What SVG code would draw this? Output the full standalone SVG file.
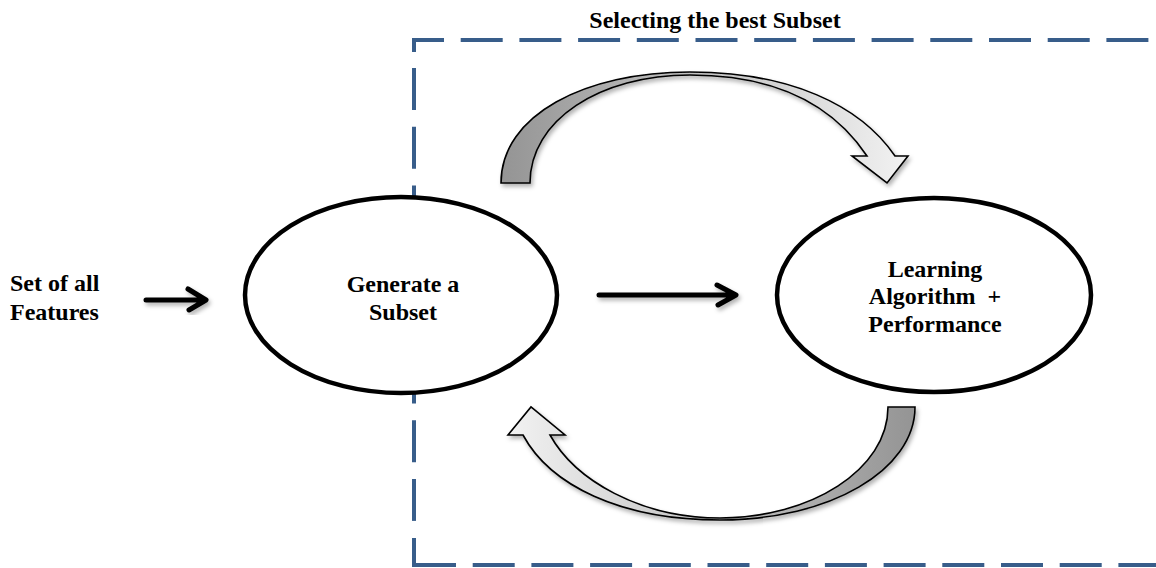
<svg xmlns="http://www.w3.org/2000/svg" width="1156" height="568" viewBox="0 0 1156 568">
<defs>
<style>
.lbl{font-family:"Liberation Serif","Times New Roman",serif;font-weight:bold;font-size:24px;fill:#000}
.dash{fill:none;stroke:#385D8A;stroke-width:4;stroke-dasharray:42 16.7}
.corner{fill:none;stroke:#385D8A;stroke-width:4}
.node{fill:#fff;stroke:#000;stroke-width:4.5}
.line{fill:none;stroke:#000;stroke-width:5;stroke-linecap:round;stroke-linejoin:round}
.curve{stroke:#000;stroke-width:1.6;stroke-linejoin:miter}
</style>
<linearGradient id="gTop" x1="500" y1="0" x2="908" y2="0" gradientUnits="userSpaceOnUse">
<stop offset="0" stop-color="#949494"/>
<stop offset="1" stop-color="#f2f2f2"/>
</linearGradient>
<linearGradient id="gBot" x1="915" y1="0" x2="508" y2="0" gradientUnits="userSpaceOnUse">
<stop offset="0" stop-color="#949494"/>
<stop offset="1" stop-color="#f2f2f2"/>
</linearGradient>
<filter id="sh" x="-20%" y="-20%" width="140%" height="140%">
<feDropShadow dx="2" dy="3" stdDeviation="2" flood-color="#000" flood-opacity="0.3"/>
</filter>
</defs>

<g id="frame">
<path class="corner" d="M414,52 V40 H444"/>
<path class="dash" d="M460.7,40 H1160"/>
<path class="dash" d="M414,68 V521"/>
<path class="corner" d="M414,538 V565 H456"/>
<path class="dash" d="M472.7,565 H1160"/>
<text class="lbl" x="715" y="28" text-anchor="middle">Selecting the best Subset</text>
</g>

<g id="connectors">
<path class="curve" fill="url(#gTop)" filter="url(#sh)" d="M501,183 C501,115 585,72 690,72 C790,72 860,105 895,156 L908,156 L887,183 L852,156 L867,156 C835,108 780,75 690,75 C600,75 530,120 530,183 Z"/>
<path class="curve" fill="url(#gBot)" filter="url(#sh)" d="M915,407 C915,470 830,520 720,520 C620,520 550,485 523,435 L508,435 L531,407 L565,435 L550,435 C575,480 640,518 720,518 C810,518 888,470 888,407 Z"/>
<g filter="url(#sh)">
<path class="line" d="M146,300 H205 M188,289 L206,300 L189,310"/>
<path class="line" d="M599,295 H735 M717,285 L736,295 L718,305"/>
</g>
</g>

<g id="input">
<text class="lbl" x="10" y="291">Set of all</text>
<text class="lbl" x="10" y="320">Features</text>
</g>

<g id="generate">
<ellipse class="node" cx="401" cy="295" rx="156" ry="98"/>
<text class="lbl" x="403" y="292" text-anchor="middle">Generate a</text>
<text class="lbl" x="403" y="320" text-anchor="middle">Subset</text>
</g>

<g id="learning">
<ellipse class="node" cx="934" cy="295" rx="157" ry="97"/>
<text class="lbl" x="935" y="277" text-anchor="middle">Learning</text>
<text class="lbl" x="935" y="304" text-anchor="middle">Algorithm&#160; +</text>
<text class="lbl" x="935" y="332" text-anchor="middle">Performance</text>
</g>
</svg>
